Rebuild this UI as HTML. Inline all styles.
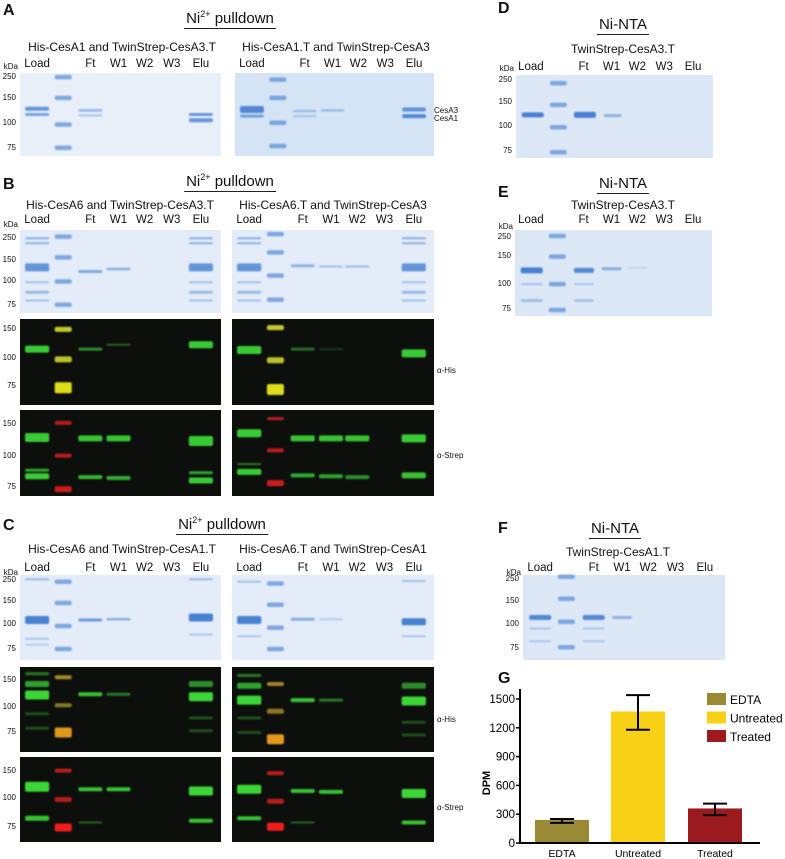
<!DOCTYPE html>
<html><head><meta charset="utf-8">
<style>
html,body{margin:0;padding:0;background:#fff;}
body{width:785px;height:859px;position:relative;overflow:hidden;font-family:"Liberation Sans",sans-serif;color:#111;}
.t{position:absolute;white-space:nowrap;}
.letter{font-weight:bold;font-size:16px;}
.title{font-size:15px;border-bottom:1px solid #222;padding:0 2px 1px;transform:translateX(-50%);}
.sub{font-size:12px;transform:translateX(-50%);}
.lane{font-size:11.5px;transform:translateX(-50%);}
.kda{font-size:8px;text-align:right;width:20px;}
svg{position:absolute;left:0;top:0;}
</style></head>
<body>
<svg id="gels" width="785" height="859"><defs><filter id="soft" x="-20%" y="-100%" width="140%" height="300%"><feGaussianBlur stdDeviation="0.9"/></filter></defs></svg>
<div id="txt"></div>
<svg id="chart" width="785" height="859"></svg>
<script>
// ---------- Chart G data ----------
const categories = ["EDTA","Untreated","Treated"];
const dpmValues = [240,1370,360];
const errLow = [210,1180,290];
const errHigh = [250,1540,410];
const yTicks = [0,300,600,900,1200,1500];
const barColors = ["#9a8a35","#f8d117","#9b1b1f"];

const NS="http://www.w3.org/2000/svg";
function mk(tag,attrs,parent){const e=document.createElementNS(NS,tag);for(const k in attrs)e.setAttribute(k,attrs[k]);parent.appendChild(e);return e;}
const txt=document.getElementById('txt');
function T(cls,x,y,s,name){const d=document.createElement('div');d.className='t '+cls;d.style.left=x+'px';d.style.top=y+'px';d.innerHTML=s;


txt.appendChild(d);return d;}

const gsv=document.getElementById('gels');
const laneRel=[0.085,0.215,0.35,0.49,0.62,0.755,0.9];
const laneNames=["Load","","Ft","W1","W2","W3","Elu"];
function gel(name,x,y,w,h,type,bands,bg){
  const g=mk('g',{},gsv);
  
  
  mk('rect',{x:x,y:y,width:w,height:h,fill:bg||(type==='c'?'#e3ecf8':'#0d0f0d')},g);
  const bg2=mk('g',{filter:'url(#soft)'},g);
  bands.forEach(b=>{
    const lw=b[5]||w*0.12;
    const cx=x+laneRel[b[0]]*w;
    const col=b[4]||(type==='c'?'#2f6fca':'#3fe03a');
    const r=mk('rect',{x:cx-lw/2,y:y+b[1]*h-b[3]/2,width:lw,height:b[3],rx:2,fill:col,opacity:b[2]},bg2);
    
    
  });
}
const w12=17;
function ladderC(f){return f.map(v=>[1,v,0.6,4.5,'#3a7ad0',w12]);}
function lanes(x,w,y){laneNames.forEach((n,i)=>{if(n)T('lane',x+laneRel[i]*w,y,n,'lane-label-'+n.toLowerCase());});}
function kda(x,y,h,marks,top){ if(top!==undefined)T('kda',x-22,top,'kDa','kda-label');
  marks.forEach(m=>T('kda',x-24,y+m[1]*h-5,m[0],'kda-'+m[0]));}
const cm=[[250,0.05],[150,0.3],[100,0.6],[75,0.9]];

// ---- A ----
T('letter',3,2,'A','panel-a-label');
T('title',230,9,'Ni<sup style="font-size:9px">2+</sup> pulldown','panel-a-title');
T('sub',122,40,'His-CesA1 and TwinStrep-CesA3.T','a-left-subtitle');
T('sub',336,40,'His-CesA1.T and TwinStrep-CesA3','a-right-subtitle');
lanes(20,201,58);lanes(235,199,58);
kda(20,73,83,cm,62);
gel('gel-a-left',20,73,201,83,'c',[[0,0.43,0.7,4],[0,0.5,0.6,3],[2,0.45,0.45,2.5],[2,0.51,0.35,2],[6,0.5,0.7,3],[6,0.57,0.7,4]].concat(ladderC([0.05,0.3,0.62,0.9])),'#e8eff9');
gel('gel-a-right',235,73,199,83,'c',[[0,0.44,0.8,7],[0,0.52,0.6,3],[2,0.46,0.4,2],[2,0.52,0.3,2],[3,0.45,0.4,2],[6,0.44,0.7,4],[6,0.52,0.8,4]].concat(ladderC([0.08,0.3,0.6,0.88])),'#d5e4f5');
T('kda',434,106,'CesA3','cesa3-label').style.textAlign='left';
T('kda',434,114,'CesA1','cesa1-label').style.textAlign='left';

// ---- B ----
T('letter',3,176,'B','panel-b-label');
T('title',230,172,'Ni<sup style="font-size:9px">2+</sup> pulldown','panel-b-title');
T('sub',120,198,'His-CesA6 and TwinStrep-CesA3.T','b-left-subtitle');
T('sub',333,198,'His-CesA6.T and TwinStrep-CesA3','b-right-subtitle');
lanes(20,201,214);lanes(232,202,214);
kda(20,230,83,[[250,0.1],[150,0.36],[100,0.62],[75,0.9]],220);
const loadMix=l=>[[l,0.1,0.5,2],[l,0.16,0.45,2],[l,0.45,0.7,8],[l,0.63,0.35,2],[l,0.75,0.4,3],[l,0.85,0.35,2]];
gel('gel-b-left-coomassie',20,230,201,83,'c',loadMix(0).concat(loadMix(6),[[2,0.5,0.55,3],[3,0.47,0.5,2.5]],ladderC([0.08,0.33,0.62,0.9])));
gel('gel-b-right-coomassie',232,230,202,83,'c',loadMix(0).concat(loadMix(6),[[2,0.43,0.45,3],[3,0.44,0.35,2],[4,0.44,0.4,2]],ladderC([0.05,0.27,0.55,0.84])));
kda(20,319,86,[[150,0.12],[100,0.45],[75,0.78]]);
gel('blot-b-left-his',20,319,201,86,'w',[[0,0.35,0.9,7],[1,0.12,0.9,5,'#d8e030',17],[1,0.47,0.85,6,'#d8e030',17],[1,0.8,0.95,11,'#e8e820',17],[2,0.35,0.6,3],[3,0.3,0.4,2],[6,0.3,0.9,7]]);
gel('blot-b-right-his',232,319,202,86,'w',[[0,0.36,0.9,8],[1,0.1,0.9,5,'#d8e030',17],[1,0.48,0.85,6,'#d8e030',17],[1,0.82,0.95,11,'#e8e820',17],[2,0.35,0.45,3],[3,0.35,0.2,2],[6,0.4,0.9,8]]);
T('kda',437,366,'α-His','alpha-his-label').style.textAlign='left';
kda(20,410,86,[[150,0.16],[100,0.53],[75,0.89]]);
gel('blot-b-left-strep',20,410,201,86,'w',[[0,0.32,0.9,9],[0,0.7,0.7,3],[0,0.77,0.9,6],[1,0.15,0.8,4,'#e02020',17],[1,0.53,0.8,4,'#e02020',17],[1,0.92,0.9,6,'#e02020',17],[2,0.33,0.85,6],[3,0.33,0.85,6],[2,0.78,0.8,4],[3,0.79,0.75,4],[6,0.36,0.9,10],[6,0.73,0.7,3],[6,0.82,0.9,6]]);
gel('blot-b-right-strep',232,410,202,86,'w',[[0,0.27,0.9,8],[0,0.63,0.5,2],[0,0.72,0.9,6],[1,0.1,0.8,3,'#e02020',17],[1,0.47,0.8,4,'#e02020',17],[1,0.85,0.9,6,'#e02020',17],[2,0.33,0.85,6],[3,0.33,0.85,6],[4,0.33,0.85,6],[2,0.76,0.75,4],[3,0.77,0.7,4],[4,0.78,0.6,4],[6,0.33,0.9,8],[6,0.76,0.85,6]]);
T('kda',437,451,'α-Strep','alpha-strep-label').style.textAlign='left';

// ---- C ----
T('letter',3,517,'C','panel-c-label');
T('title',222,515,'Ni<sup style="font-size:9px">2+</sup> pulldown','panel-c-title');
T('sub',122,542,'His-CesA6 and TwinStrep-CesA1.T','c-left-subtitle');
T('sub',333,542,'His-CesA6.T and TwinStrep-CesA1','c-right-subtitle');
lanes(20,201,562);lanes(232,202,562);
kda(20,575,85,[[250,0.06],[150,0.3],[100,0.58],[75,0.87]],568);
gel('gel-c-left-coomassie',20,575,201,85,'c',[[0,0.05,0.4,2],[0,0.53,0.85,8],[0,0.75,0.3,2],[0,0.82,0.25,2],[6,0.05,0.4,2],[6,0.5,0.85,8],[6,0.7,0.3,2],[2,0.53,0.65,3],[3,0.52,0.5,2.5]].concat(ladderC([0.08,0.33,0.6,0.87])));
gel('gel-c-right-coomassie',232,575,202,85,'c',[[0,0.08,0.35,2],[0,0.53,0.85,8],[0,0.72,0.3,2],[6,0.07,0.35,2],[6,0.55,0.85,7],[6,0.72,0.3,2],[2,0.52,0.5,3],[3,0.52,0.25,2]].concat(ladderC([0.1,0.35,0.62,0.87])));
kda(20,667,85,[[150,0.15],[100,0.47],[75,0.77]]);
gel('blot-c-left-his',20,667,201,85,'w',[[0,0.08,0.5,3],[0,0.2,0.7,6],[0,0.33,0.95,9],[0,0.55,0.3,3],[0,0.72,0.3,3],[1,0.12,0.8,4,'#c8a830',17],[1,0.45,0.7,4,'#b8a830',17],[1,0.77,0.95,10,'#e8a020',17],[2,0.32,0.85,4],[3,0.32,0.5,3],[6,0.2,0.6,6],[6,0.35,0.95,9],[6,0.6,0.3,3],[6,0.75,0.3,3]]);
gel('blot-c-right-his',232,667,202,85,'w',[[0,0.1,0.5,3],[0,0.22,0.7,6],[0,0.39,0.95,9],[0,0.6,0.3,3],[0,0.77,0.3,3],[1,0.2,0.8,4,'#c8a030',17],[1,0.52,0.7,5,'#c8a030',17],[1,0.85,0.95,10,'#f0a020',17],[2,0.39,0.85,4],[3,0.39,0.5,3],[6,0.22,0.6,6],[6,0.4,0.95,9],[6,0.65,0.3,3],[6,0.8,0.3,3]]);
T('kda',437,715,'α-His','alpha-his-label-c').style.textAlign='left';
kda(20,757,85,[[150,0.16],[100,0.48],[75,0.82]]);
gel('blot-c-left-strep',20,757,201,85,'w',[[0,0.35,0.95,10],[0,0.72,0.85,5],[1,0.16,0.8,4,'#e02020',17],[1,0.5,0.8,5,'#e02020',17],[1,0.83,0.95,8,'#ff2020',17],[2,0.38,0.85,4],[3,0.38,0.85,4],[2,0.77,0.4,2],[6,0.4,0.95,9],[6,0.75,0.85,4]]);
gel('blot-c-right-strep',232,757,202,85,'w',[[0,0.38,0.95,9],[0,0.72,0.85,4],[1,0.19,0.8,4,'#e02020',17],[1,0.52,0.8,5,'#e02020',17],[1,0.82,0.95,8,'#ff2020',17],[2,0.4,0.85,4],[3,0.41,0.85,4],[2,0.77,0.4,2],[6,0.43,0.95,9],[6,0.77,0.85,4]]);
T('kda',437,803,'α-Strep','alpha-strep-label-c').style.textAlign='left';

// ---- D ----
T('letter',498,0,'D','panel-d-label');
T('title',623,16,'Ni-NTA','panel-d-title');
T('sub',623,42,'TwinStrep-CesA3.T','d-subtitle');
const rl=(x,w,y)=>{laneNames.forEach((n,i)=>{if(n)T('lane',x+laneRel[i]*w,y,n,'lane-label-'+n.toLowerCase());});};
rl(514,199,61);
kda(516,75,83,[[250,0.06],[150,0.32],[100,0.62],[75,0.92]],64);
gel('gel-d',516,75,197,83,'c',[[0,0.48,0.85,5,null,22],[2,0.48,0.85,6,null,22],[3,0.49,0.45,3,null,18]].concat(ladderC([0.1,0.36,0.63,0.93])),'#dde8f7');

// ---- E ----
T('letter',498,184,'E','panel-e-label');
T('title',623,175,'Ni-NTA','panel-e-title');
T('sub',623,198,'TwinStrep-CesA3.T','e-subtitle');
rl(514,199,214);
kda(515,230,86,[[250,0.08],[150,0.3],[100,0.63],[75,0.92]],222);
gel('gel-e',515,230,197,86,'c',[[0,0.47,0.85,6,null,22],[0,0.63,0.35,2,null,22],[0,0.82,0.35,3,null,22],[2,0.47,0.8,5,null,20],[2,0.63,0.3,2,null,20],[2,0.82,0.3,3,null,20],[3,0.45,0.5,3,null,20],[4,0.44,0.15,2,null,20]].concat(ladderC([0.07,0.31,0.63,0.93])),'#dde8f7');

// ---- F ----
T('letter',498,520,'F','panel-f-label');
T('title',615,520,'Ni-NTA','panel-f-title');
T('sub',618,545,'TwinStrep-CesA1.T','f-subtitle');
rl(523,202,562);
kda(523,575,85,[[250,0.05],[150,0.3],[100,0.58],[75,0.86]],568);
gel('gel-f',523,575,202,85,'c',[[0,0.5,0.8,5,null,22],[0,0.63,0.3,2,null,22],[0,0.78,0.3,2,null,22],[2,0.5,0.8,5,null,22],[2,0.63,0.3,2,null,22],[2,0.78,0.3,2,null,22],[3,0.5,0.45,3,null,20]].concat(ladderC([0.02,0.28,0.55,0.85])),'#dde8f7');

// ---- G chart ----
const csv=document.getElementById('chart');
T('letter',498,670,'G','panel-g-label');
const x0=520,yBase=843,yTop=699,yMax=1500;
const yS=v=>yBase-(v/yMax)*(yBase-yTop);
const barX=[535,611,688], barW=54;
yTicks.forEach(t=>{
  const l=mk('line',{x1:x0-4,x2:x0,y1:yS(t),y2:yS(t),stroke:'#000','stroke-width':1.5},csv);
  
  
  const tx=mk('text',{x:x0-5,y:yS(t)+4,'text-anchor':'end','font-size':11.5,'font-family':'Liberation Sans, sans-serif'},csv);
  tx.textContent=t;
  
  
});
categories.forEach((c,i)=>{
  const bx=barX[i];
  const r=mk('rect',{x:bx,y:yS(dpmValues[i]),width:barW,height:yBase-yS(dpmValues[i]),fill:barColors[i]},csv);
  
  
  const cx=bx+barW/2;
  const eg=mk('g',{stroke:'#000','stroke-width':2},csv);
  
  
  mk('line',{x1:cx,x2:cx,y1:yS(errHigh[i]),y2:yS(errLow[i])},eg);
  mk('line',{x1:cx-12,x2:cx+12,y1:yS(errHigh[i]),y2:yS(errHigh[i])},eg);
  mk('line',{x1:cx-12,x2:cx+12,y1:yS(errLow[i]),y2:yS(errLow[i])},eg);
  const tx=mk('text',{x:cx,y:857,'text-anchor':'middle','font-size':10.5,'font-family':'Liberation Sans, sans-serif'},csv);
  tx.textContent=c;
  
  
  const ly=693+i*18.5;
  const sw=mk('rect',{x:707,y:ly,width:19,height:12,fill:barColors[i]},csv);
  
  
  const lt=mk('text',{x:730,y:ly+11,'font-size':12,'font-family':'Liberation Sans, sans-serif'},csv);
  lt.textContent=c;
  
  
});
const ax=mk('path',{d:`M${x0},${yTop-10} V${yBase} H760`,fill:'none',stroke:'#000','stroke-width':2},csv);


const yl=mk('text',{x:0,y:0,transform:'translate(490,783) rotate(-90)','text-anchor':'middle','font-size':11,'font-weight':'bold','font-family':'Liberation Sans, sans-serif'},csv);
yl.textContent='DPM';


</script>
</body></html>
